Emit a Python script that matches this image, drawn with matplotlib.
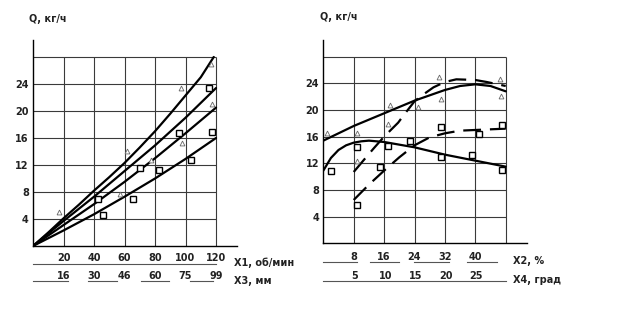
import matplotlib
matplotlib.use("Agg")
import matplotlib.pyplot as plt
import matplotlib.transforms as mtransforms

# ---- left panel data: Q vs X1 (rpm); X3 (mm) is a second scale ----
x1_ticks = [20, 40, 60, 80, 100, 120]
x3_ticks = [16, 30, 46, 60, 75, 99]
q_ticks = [4, 8, 12, 16, 20, 24]

l_curve1_x = [0, 10, 20, 30, 40, 50, 60, 70, 80, 90, 100, 110, 118.5]
l_curve1_y = [0, 2.0, 4.1, 6.1, 8.2, 10.2, 12.3, 14.6, 17.0, 19.6, 22.3, 25.0, 28.0]
l_curve2_x = [0, 20, 40, 60, 80, 100, 120]
l_curve2_y = [0, 3.7, 7.3, 11.1, 14.9, 19.0, 23.4]
l_curve3_x = [0, 20, 40, 60, 80, 100, 120]
l_curve3_y = [0, 3.1, 6.2, 9.5, 13.0, 16.7, 20.5]
l_curve4_x = [0, 20, 40, 60, 80, 100, 120]
l_curve4_y = [0, 2.3, 4.7, 7.3, 10.0, 12.9, 16.0]

l_tri_x = [17, 61.6, 57, 77.2, 97.1, 97.6, 116.9, 117.1]
l_tri_y = [5.1, 14.0, 7.75, 12.8, 23.4, 15.3, 27.0, 21.1]
l_sq_x = [42.8, 46, 65.8, 70.2, 82.5, 96, 103.7, 115.1, 117.3]
l_sq_y = [6.9, 4.6, 7.0, 11.6, 11.3, 16.7, 12.8, 23.4, 16.9]

# ---- right panel data: Q vs X2 (%); X4 (deg) is a second scale ----
x2_ticks = [8, 16, 24, 32, 40]
x4_ticks = [5, 10, 15, 20, 25]

r_a_x = [0, 8, 16, 24, 32, 36, 40, 44, 48]
r_a_y = [15.4, 17.6, 19.5, 21.4, 23.0, 23.6, 23.85, 23.6, 22.8]
r_b_x = [0, 2, 4, 6, 8, 10, 12, 16, 24, 32, 40, 48]
r_b_y = [10.9, 12.8, 14.0, 14.7, 15.1, 15.3, 15.4, 15.2, 14.4, 13.3, 12.4, 11.5]
r_c_x = [8, 11.4, 13.2, 16, 19.7, 21, 24, 26, 29, 32, 35, 40, 43, 48]
r_c_y = [10.7, 13.0, 14.2, 16.0, 18.1, 19.1, 21.3, 22.2, 23.4, 24.2, 24.6, 24.5, 24.2, 23.6]
r_d_x = [8, 12, 16, 20, 24, 28, 32, 36, 40, 48]
r_d_y = [6.5, 8.8, 10.9, 12.9, 14.7, 15.9, 16.5, 16.9, 17.0, 17.2]

r_tri_x = [1.05, 9.0, 8.9, 17.5, 17.1, 24.8, 30.5, 30.9, 46.5, 46.7]
r_tri_y = [16.5, 16.6, 12.4, 20.8, 17.9, 20.4, 24.9, 21.7, 24.7, 22.1]
r_sq_x = [1.9, 9.0, 9.0, 14.9, 16.9, 22.8, 30.9, 31.1, 39.0, 40.9, 47.0, 47.0]
r_sq_y = [10.8, 14.5, 5.7, 11.4, 14.6, 15.4, 13.0, 17.5, 13.3, 16.4, 17.7, 11.0]

W, H = 623, 325
fig = plt.figure(figsize=(W / 100, H / 100), dpi=100)
fig.patch.set_facecolor("white")

FS = 7
TXT = "#222222"


def px_axes(left, right, top, bottom):
    return fig.add_axes([left / W, 1 - bottom / H, (right - left) / W, (bottom - top) / H])


def setup(ax, xmax, xgrid):
    ax.set_ylim(0, 30.5)
    for s in ["top", "right"]:
        ax.spines[s].set_visible(False)
    for s in ["left", "bottom"]:
        ax.spines[s].set_linewidth(1.0)
    ax.set_xticks([])
    ax.set_yticks(q_ticks)
    ax.set_yticklabels([str(v) for v in q_ticks], fontsize=FS, fontweight="bold", color=TXT)
    ax.tick_params(axis="y", length=0, pad=3)
    ax.vlines(xgrid, 0, 28, color="#3a3a3a", lw=0.8)
    ax.hlines(q_ticks + [28], 0, xmax, color="#3a3a3a", lw=0.8)


def below(ax, x, dy, s, ha="center"):
    tr = mtransforms.offset_copy(ax.get_xaxis_transform(), fig=fig, y=-dy, units="dots")
    ax.text(x, 0, s, transform=tr, ha=ha, va="center", fontsize=FS,
            fontweight="bold", color=TXT, clip_on=False)


def rule(ax, x0, x1, dy):
    tr = mtransforms.offset_copy(ax.get_xaxis_transform(), fig=fig, y=-dy, units="dots")
    ax.plot([x0, x1], [0, 0], transform=tr, color="#555555", lw=0.8, clip_on=False)


tri_kw = dict(ls="none", marker="^", ms=3.5, mfc="white", mec="#666666", mew=0.6, zorder=5)
sq_kw = dict(ls="none", marker="s", ms=4.5, mfc="white", mec="black", mew=1.0, zorder=5)
line_kw = dict(color="black", lw=1.6, solid_capstyle="round")

# ---- left panel ----
axl = px_axes(33, 237.4, 40.1, 246)
axl.set_xlim(0, 134)
setup(axl, 120, x1_ticks)
for xs, ys in [(l_curve1_x, l_curve1_y), (l_curve2_x, l_curve2_y),
               (l_curve3_x, l_curve3_y), (l_curve4_x, l_curve4_y)]:
    axl.plot(xs, ys, **line_kw)
axl.plot(l_tri_x, l_tri_y, **tri_kw)
axl.plot(l_sq_x, l_sq_y, **sq_kw)

for xv, s in zip(x1_ticks, x1_ticks):
    below(axl, xv, 12, str(s))
rule(axl, 0, 120, 18)
for xv, s in zip(x1_ticks, x3_ticks):
    below(axl, xv, 30, str(s))
for a, b in [(0, 23), (36, 55), (70.5, 89), (103, 118)]:
    rule(axl, a, b, 35)
below(axl, 131.5, 17, "X1, об/мин", ha="left")
below(axl, 131.5, 35, "X3, мм", ha="left")

# ---- right panel ----
axr = px_axes(323.3, 526.6, 40.0, 243.3)
axr.set_xlim(0, 53.5)
setup(axr, 48, x2_ticks + [48])
axr.plot(r_a_x, r_a_y, **line_kw)
axr.plot(r_b_x, r_b_y, **line_kw)
axr.plot(r_c_x, r_c_y, color="black", lw=1.6, dashes=(8, 4))
axr.plot(r_d_x, r_d_y, color="black", lw=1.6, dashes=(8, 4))
axr.plot(r_tri_x, r_tri_y, **tri_kw)
axr.plot(r_sq_x, r_sq_y, **sq_kw)

for xv in x2_ticks:
    below(axr, xv, 13.5, str(xv))
for a, b in [(0, 8.8), (12.3, 20), (23.8, 33), (37.8, 45.6)]:
    rule(axr, a, b, 18.5)
for xv, s in zip(x2_ticks, x4_ticks):
    below(axr, xv + 0.3, 32.5, str(s))
rule(axr, 0, 48, 37.5)
below(axr, 49.8, 18, "X2, %", ha="left")
below(axr, 49.8, 37, "X4, град", ha="left")

fig.text(29 / W, 1 - 19 / H, "Q, кг/ч", fontsize=FS, fontweight="bold", color=TXT, va="center")
fig.text(320 / W, 1 - 17 / H, "Q, кг/ч", fontsize=FS, fontweight="bold", color=TXT, va="center")

fig.savefig("out.png", dpi=100, facecolor="white")
